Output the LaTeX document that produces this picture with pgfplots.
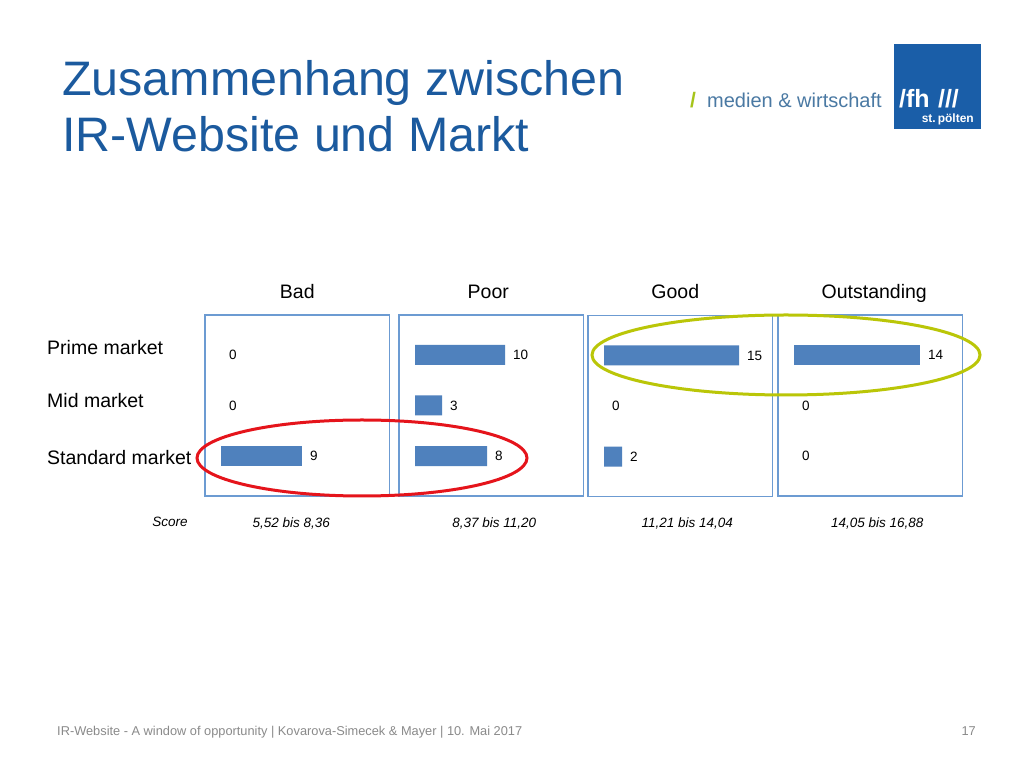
\documentclass[border=0pt]{standalone}
\usepackage{fontspec}
\setmainfont{Liberation Sans}
\usepackage{pgfplots}
\usepackage{pgfplotstable}
\pgfplotsset{compat=1.18}

\definecolor{barblue}{HTML}{4F81BD}
\definecolor{boxblue}{HTML}{6C9BD2}
\definecolor{titleblue}{HTML}{1B5A9E}
\definecolor{ovalred}{HTML}{E5141B}
\definecolor{ovalgreen}{HTML}{BAC608}
\definecolor{fhblue}{HTML}{1A5EA8}
\definecolor{fhgreen}{HTML}{A6C41A}
\definecolor{mwtext}{HTML}{4A79A3}
\definecolor{footgrey}{HTML}{8A8A8A}

% rows: 0 = Prime, 1 = Mid, 2 = Standard market
\pgfplotstableread{
row val
0 0
1 0
2 9
}\bad
\pgfplotstableread{
row val
0 10
1 3
2 8
}\poor
\pgfplotstableread{
row val
0 15
1 0
2 2
}\good
\pgfplotstableread{
row val
0 14
1 0
2 0
}\outstanding

\pgfplotsset{
  panel/.style={
    xbar, bar shift=0pt, scale only axis, width=184.5pt, height=181pt, anchor=south west,
    xmin=-1.778, xmax=18.72, ymin=-0.792, ymax=2.792, y dir=reverse,
    axis line style={boxblue, line width=1.3pt},
    ticks=none, bar width=20pt,
    /pgf/number format/assume math mode=true,
    title style={at={(0.5,1)}, anchor=base, yshift=10pt,
      font=\fontsize{19.5}{22}\selectfont},
    xlabel style={at={(0.5,0)}, anchor=base, yshift=-31pt,
      font=\fontsize{13.5}{16}\selectfont\itshape},
  },
  % bars only where the value is not zero
  panelbar/.style={fill=barblue, draw=none,
    x filter/.expression={x==0 ? nan : x}},
  % value labels for every row, zeros included
  panellabel/.style={draw=none, fill=none, nodes near coords,
    nodes near coords style={anchor=west, inner sep=0pt, xshift=8pt,
      font=\fontsize{13.5}{16}\selectfont}},
}

\begin{document}
\begin{tikzpicture}[x=1pt, y=1pt]
\fill[white] (0,0) rectangle (1024,765);
\path[use as bounding box] (0,0) rectangle (1024,765);

% title
\node[anchor=base west, inner sep=0pt, text=titleblue, font=\fontsize{48.4}{56}\selectfont]
  at (62,669) {Zusammenhang zwischen};
\node[anchor=base west, inner sep=0pt, text=titleblue, font=\fontsize{48.4}{56}\selectfont]
  at (62,613) {IR-Website und Markt};

% logo
\node[anchor=base west, inner sep=0pt, text=fhgreen, font=\fontsize{21}{24}\selectfont\bfseries]
  at (690,657) {/};
\node[anchor=base west, inner sep=0pt, text=mwtext, font=\fontsize{20}{24}\selectfont]
  at (707,657) {medien \& wirtschaft};
\fill[fhblue] (894,636) rectangle (981,721);
\node[anchor=base west, inner sep=0pt, text=white, font=\fontsize{25}{26}\selectfont\bfseries]
  at (899,657) {/fh\,\,///};
\node[anchor=base east, inner sep=0pt, text=white, font=\fontsize{12}{13}\selectfont\bfseries]
  at (974,642) {st.\,pölten};

% row labels
\node[anchor=base west, inner sep=0pt, font=\fontsize{19.5}{22}\selectfont] at (47,410) {Prime market};
\node[anchor=base west, inner sep=0pt, font=\fontsize{19.5}{22}\selectfont] at (47,357) {Mid market};
\node[anchor=base west, inner sep=0pt, font=\fontsize{19.5}{22}\selectfont] at (47,300) {Standard market};
\node[anchor=base, inner sep=0pt, font=\fontsize{13.5}{16}\selectfont\itshape] at (170,238) {Score};

\begin{axis}[panel, at={(205pt,269pt)}, title=Bad, xlabel={5,52 bis 8,36},
  xlabel style={xshift=-6pt}]
\addplot[panelbar] table[x=val, y=row] {\bad};
\addplot[panellabel] table[x=val, y=row] {\bad};
\end{axis}

\begin{axis}[panel, at={(399pt,269pt)}, title=Poor, xlabel={8,37 bis 11,20},
  title style={xshift=-3pt}, xlabel style={xshift=3pt}]
\addplot[panelbar] table[x=val, y=row] {\poor};
\addplot[panellabel] table[x=val, y=row] {\poor};
\end{axis}

\begin{axis}[panel, at={(588pt,268.5pt)}, title=Good, xlabel={11,21 bis 14,04},
  title style={xshift=-5pt, yshift=0.5pt}, xlabel style={xshift=7pt, yshift=0.5pt}]
\addplot[panelbar] table[x=val, y=row] {\good};
\addplot[panellabel] table[x=val, y=row] {\good};
\end{axis}

\begin{axis}[panel, at={(778pt,269pt)}, title=Outstanding, xlabel={14,05 bis 16,88},
  title style={xshift=4pt}, xlabel style={xshift=7pt}]
\addplot[panelbar] table[x=val, y=row] {\outstanding};
\addplot[panellabel] table[x=val, y=row] {\outstanding};
\end{axis}

% highlight ovals
\draw[ovalred, line width=3pt] (362,307) ellipse [x radius=165, y radius=38];
\draw[ovalgreen, line width=3pt] (786,410) ellipse [x radius=194, y radius=40];

% footer
\node[anchor=base west, inner sep=0pt, text=footgrey, font=\fontsize{12.8}{15}\selectfont]
  at (57,30) {IR-Website - A window of opportunity | Kovarova-Simecek \& Mayer | 10. Mai 2017};
\node[anchor=base east, inner sep=0pt, text=footgrey, font=\fontsize{12.8}{15}\selectfont]
  at (976,30) {17};
\end{tikzpicture}
\end{document}
